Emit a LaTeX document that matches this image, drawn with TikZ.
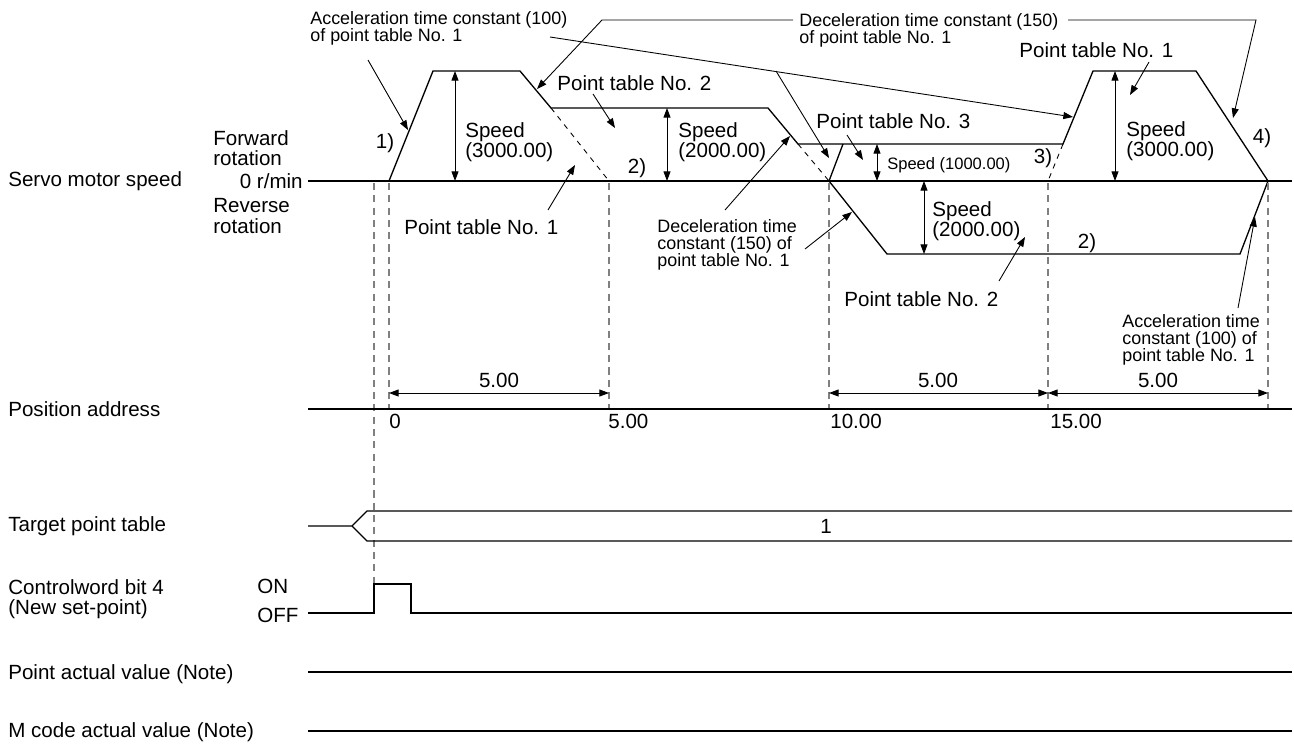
\documentclass[tikz,border=0pt]{standalone}
\usepackage{fontspec}
\setmainfont{Liberation Sans}
\usetikzlibrary{arrows.meta, positioning, calc}

\begin{document}
\begin{tikzpicture}[
  x=0.02cm, y=-0.02cm,
  every node/.style={inner sep=0pt, font=\fontsize{11.7}{11.6}\selectfont, align=left},
  small/.style={font=\fontsize{10.2}{9.8}\selectfont},
  tiny/.style={font=\fontsize{9.4}{9.4}\selectfont},
  sig/.style={line width=0.75pt},
  arr/.style={-{Triangle[length=5.5pt, width=4pt]}, line width=0.5pt},
  dim/.style={{Triangle[length=5.5pt, width=4pt]}-{Triangle[length=5.5pt, width=4pt]}, line width=0.5pt},
  guide/.style={dash pattern=on 4pt off 3pt, color=gray, line width=0.6pt},
  ext/.style={dash pattern=on 3pt off 3pt, line width=0.5pt}
]
\useasboundingbox (0,0) rectangle (1294,744);

% Signal names
\node[anchor=west] (servo) at (8,181) {Servo motor speed};
\node[anchor=west] (fwd) at (213,148) {Forward\\rotation};
\node[anchor=east] (zero) at (303,181) {0 r/min};
\node[anchor=west] (rev) at (213,216) {Reverse\\rotation};
\node[anchor=west] (posaddr) at (8,409) {Position address};
\node[anchor=west] (target) at (8,526) {Target point table};
\node[anchor=west] (cword) at (8,599) {Controlword bit 4\\(New set-point)};
\node[anchor=west] (on) at (257,586) {ON};
\node[anchor=west] (off) at (257,615) {OFF};
\node[anchor=west] (pactual) at (8,674) {Point actual value (Note)};
\node[anchor=west] (mcode) at (8,732) {M code actual value (Note)};

% Speed profile points
\coordinate (s0) at (389,181);
\coordinate (a1) at (433,71);
\coordinate (a2) at (520,71);
\coordinate (b1) at (551,108);
\coordinate (b2) at (768,108);
\coordinate (c1) at (798,144);
\coordinate (c2) at (1063,144);
\coordinate (d1) at (1093,71);
\coordinate (d2) at (1196,71);
\coordinate (e0) at (1268,181);
\coordinate (r0) at (829,181);
\coordinate (r1) at (887,254);
\coordinate (r2) at (1240,254);

% Time axis
\draw[sig] (308,181) -- (1292,181);
\draw[sig] (s0) -- (a1) -- (a2) -- (b1) -- (b2) -- (c1) -- (c2) -- (d1) -- (d2) -- (e0);
\draw[ext] (b1) -- (609,181);
\draw[ext] (c1) -- (r0);
\draw[ext] (c2) -- (1048,181);
\draw[sig] (r0) -- (843,144);
\draw[sig] (r0) -- (r1) -- (r2) -- (e0);

% Guides
\draw[guide] (374,183) -- (374,584);
\foreach \gx in {389,609,829,1048,1268}
  \draw[guide] (\gx,183) -- (\gx,409);

% Speeds
\draw[dim] (455,71) -- (455,181);
\draw[dim] (667,108) -- (667,181);
\draw[dim] (877,144) -- (877,181);
\draw[dim] (924,181) -- (924,254);
\draw[dim] (1115,71) -- (1115,181);
\node[anchor=west] (sp1) at (465,142) {Speed\\(3000.00)};
\node[anchor=west] (sp2) at (678,142) {Speed\\(2000.00)};
\node[anchor=west, tiny] (sp3) at (887,165) {Speed (1000.00)};
\node[anchor=west] (sp4) at (932,221) {Speed\\(2000.00)};
\node[anchor=west] (sp5) at (1126,141) {Speed\\(3000.00)};

\node (n1) at (385,143) {1)};
\node (n2) at (637,168) {2)};
\node (n3) at (1043,158) {3)};
\node (n4) at (1262,138) {4)};
\node (n2r) at (1087,243) {2)};

% Point tables
\node[anchor=west] (pt2) at (557,83) {Point table No. 2};
\node[anchor=west] (pt3) at (816,121) {Point table No. 3};
\node[anchor=west] (pt1r) at (1019,50) {Point table No. 1};
\node[anchor=west] (pt1) at (404,227) {Point table No. 1};
\node[anchor=west] (pt2r) at (844,299) {Point table No. 2};
\draw[arr] (593,94) -- (615,128);
\draw[arr] (847,135) -- (863,160);
\draw[arr] (1149,62) -- (1130,95);
\draw[arr] (548,210) -- (575,165);
\draw[arr] (999,281) -- (1025,237);

% Time constants
\node[anchor=west, small] (acctop) at (310,28) {Acceleration time constant (100)\\of point table No. 1};
\node[anchor=west, small] (dectop) at (799,30) {Deceleration time constant (150)\\of point table No. 1};
\node[anchor=west, small] (declow) at (657,245) {Deceleration time\\constant (150) of\\point table No. 1};
\node[anchor=west, small] (acclow) at (1122,340) {Acceleration time\\constant (100) of\\point table No. 1};

\coordinate (ka) at (408,130);
\coordinate (kb) at (1073,117);
\coordinate (kc) at (829,158);
\coordinate (kd) at (537,89);
\coordinate (ke) at (1233,118);
\coordinate (kf) at (790,136);
\coordinate (kg) at (852,212);
\coordinate (kh) at (1255,217);
\coordinate (fork) at (776,71);

\draw[arr] (368,60) -- (ka);
\draw[arr] (550,37) -- (kb);
\draw[arr] (fork) -- (kc);
\draw[arr] (793,20) -- (602,20) -- (kd);
\draw[arr] (1068,20) -- (1256,20) -- (ke);
\draw[arr] (725,210) -- (kf);
\draw[arr] (805,249) -- (kg);
\draw[arr] (1238,308) -- (kh);

% Position address
\draw[dim] (389,393) -- (609,393);
\draw[dim] (829,393) -- (1048,393);
\draw[dim] (1048,393) -- (1268,393);
\node (d1l) at (499,380) {5.00};
\node (d2l) at (938,380) {5.00};
\node (d3l) at (1158,380) {5.00};
\draw[sig] (308,409) -- (1292,409);
\node[anchor=west] (p0) at (389,421) {0};
\node[anchor=west] (p5) at (608,421) {5.00};
\node[anchor=west] (p10) at (830,421) {10.00};
\node[anchor=west] (p15) at (1050,421) {15.00};

% Target point table
\draw[sig] (308,526) -- (352,526) -- (367,511) -- (1292,511);
\draw[sig] (352,526) -- (367,541) -- (1292,541);
\node (tval) at (826,526) {1};

% Controlword
\draw[sig] (308,613) -- (374,613) -- (374,584) -- (411,584) -- (411,613) -- (1292,613);

% Actual values
\draw[sig] (308,672) -- (1292,672);
\draw[sig] (308,731) -- (1292,731);

\end{tikzpicture}
\end{document}
